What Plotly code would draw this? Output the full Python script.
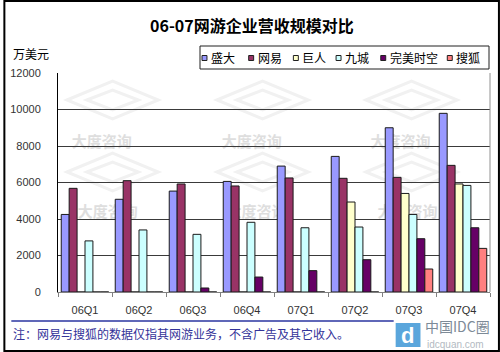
import plotly.graph_objects as go

quarters = ["06Q1", "06Q2", "06Q3", "06Q4", "07Q1", "07Q2", "07Q3", "07Q4"]
shanda = [4250, 5080, 5530, 6060, 6900, 7430, 9000, 9790]
netease = [5680, 6100, 5920, 5810, 6250, 6230, 6280, 6940]
giant = [0, 0, 0, 0, 0, 4930, 5400, 5920]
the9 = [2800, 3400, 3160, 3820, 3520, 3560, 4250, 5840]
perfect = [0, 0, 220, 820, 1170, 1770, 2920, 3520]
sohu = [0, 0, 0, 0, 0, 0, 1260, 2390]
series_names = ["盛大", "网易", "巨人", "九城", "完美时空", "搜狐"]
series_values = [shanda, netease, giant, the9, perfect, sohu]
colors = ["#9999FF", "#993366", "#FFFFCC", "#CCFFFF", "#660066", "#FF8080"]
y_ticks = [0, 2000, 4000, 6000, 8000, 10000, 12000]

title_text = "06-07网游企业营收规模对比"
unit_text = "万美元"
note_text = "注：网易与搜狐的数据仅指其网游业务，不含广告及其它收入。"
watermark = "大度咨询"

W, H = 500, 352
L, R, T, B = 55, 10, 73, 60
PW, PH = W - L - R, H - T - B

def px(x):
    return (x - L) / PW

def py(y):
    return (H - B - y) / PH

CJK = "Noto Sans CJK SC, Liberation Sans, sans-serif"
NUM = "Liberation Sans, Arial, Noto Sans CJK SC, sans-serif"

fig = go.Figure()
xs = list(range(len(quarters)))
for name, vals, col in zip(series_names, series_values, colors):
    fig.add_trace(go.Bar(
        x=xs, y=vals, name=name,
        marker=dict(color=col, line=dict(color="#1a1a1a", width=1)),
        showlegend=False,
    ))

shapes = []
annotations = []

# watermark diamonds and text (behind bars)
for dx in [0, 151, 301]:
    for cy in [100, 172]:
        cx = 110 + dx
        for hw, hh in [(46, 19), (26, 10)]:
            path = "M {} {} L {} {} L {} {} L {} {} Z".format(
                px(cx - hw), py(cy), px(cx), py(cy - hh), px(cx + hw), py(cy), px(cx), py(cy + hh))
            shapes.append(dict(type="path", xref="paper", yref="paper", path=path,
                               line=dict(color="#f1f1f1", width=3), layer="between"))
for (cx, cy) in [(99, 142), (250, 142), (400, 142), (105, 212), (255, 212), (407, 212)]:
    shapes.append(dict(type="rect", xref="paper", yref="paper",
                       x0=px(cx - 35), x1=px(cx + 35), y0=py(cy + 10), y1=py(cy - 10),
                       line=dict(width=0), fillcolor="rgba(0,0,0,0)", layer="between",
                       label=dict(text=watermark, textposition="middle center",
                                  font=dict(family=CJK, size=15, color="#dedede", weight="bold"))))

# plot area right border
shapes.append(dict(type="line", xref="paper", yref="paper", x0=1, x1=1, y0=0, y1=1,
                   line=dict(color="#909090", width=1)))

# legend box
shapes.append(dict(type="rect", xref="paper", yref="paper",
                   x0=px(198), x1=px(489), y0=py(69), y1=py(46),
                   line=dict(color="#202020", width=1), fillcolor="white"))
sq_x = [200, 247, 292, 335, 380, 447]
for name, col, sx in zip(series_names, colors, sq_x):
    shapes.append(dict(type="rect", xref="paper", yref="paper",
                       x0=px(sx), x1=px(sx + 5), y0=py(60.5), y1=py(55.5),
                       line=dict(color="#202020", width=1), fillcolor=col))
    annotations.append(dict(text=name, xref="paper", yref="paper", x=px(sx + 7), y=py(58),
                            xanchor="left", yanchor="middle", showarrow=False,
                            font=dict(family=CJK, size=12, color="#000")))

# title, unit, note
annotations.append(dict(text="<b>" + title_text + "</b>", xref="paper", yref="paper",
                        x=px(250), y=py(25), xanchor="center", yanchor="middle", showarrow=False,
                        font=dict(family=CJK, size=16, color="#000")))
annotations.append(dict(text=unit_text, xref="paper", yref="paper", x=px(8), y=py(54),
                        xanchor="left", yanchor="middle", showarrow=False,
                        font=dict(family=CJK, size=12, color="#000")))
shapes.append(dict(type="line", xref="paper", yref="paper", x0=px(8), x1=px(393),
                   y0=py(321), y1=py(321), line=dict(color="#2a35a0", width=1.5)))
annotations.append(dict(text=note_text, xref="paper", yref="paper", x=px(8), y=py(333),
                        xanchor="left", yanchor="middle", showarrow=False,
                        font=dict(family=CJK, size=12, color="#333399")))

# bottom-right logo
shapes.append(dict(type="rect", xref="paper", yref="paper",
                   x0=px(395), x1=px(420), y0=py(347), y1=py(323),
                   line=dict(width=0), fillcolor="#5aa6dc"))
annotations.append(dict(text="<b>d</b>", xref="paper", yref="paper", x=px(407), y=py(335),
                        xanchor="center", yanchor="middle", showarrow=False,
                        font=dict(family=NUM, size=22, color="white")))
annotations.append(dict(text="中国IDC圈", xref="paper", yref="paper", x=px(423), y=py(326),
                        xanchor="left", yanchor="middle", showarrow=False,
                        font=dict(family=CJK, size=14, color="#7d8a97")))
annotations.append(dict(text="idcquan.com", xref="paper", yref="paper", x=px(425), y=py(344),
                        xanchor="left", yanchor="middle", showarrow=False,
                        font=dict(family=NUM, size=10, color="#b3bac2")))

# outer border
shapes.append(dict(type="rect", xref="paper", yref="paper",
                   x0=px(1), x1=px(499), y0=py(351), y1=py(1),
                   line=dict(color="#000", width=2), fillcolor="rgba(0,0,0,0)"))

fig.update_layout(
    width=W, height=H,
    margin=dict(l=L, r=R, t=T, b=B, pad=0),
    paper_bgcolor="white", plot_bgcolor="white",
    barmode="group", bargap=0.12, bargroupgap=0,
    showlegend=False,
    shapes=shapes, annotations=annotations,
    xaxis=dict(
        range=[-0.5, len(quarters) - 0.5],
        tickmode="array", tickvals=xs, ticktext=quarters,
        ticks="", showgrid=False, zeroline=False,
        showline=True, linecolor="#808080", linewidth=1,
        minor=dict(ticks="outside", ticklen=4, tickcolor="#808080", tick0=-0.5, dtick=1, showgrid=False),
        tickfont=dict(family=NUM, size=11, color="#333"),
        ticklabelstandoff=8,
        fixedrange=True,
    ),
    yaxis=dict(
        range=[0, 12000], tickmode="array", tickvals=y_ticks,
        ticktext=[str(v) for v in y_ticks],
        showgrid=True, gridcolor="#3a3a3a", gridwidth=1,
        zeroline=False, showline=True, linecolor="#000", linewidth=1,
        ticks="", tickfont=dict(family=NUM, size=11, color="#333"),
        ticklabelstandoff=14,
        fixedrange=True,
    ),
)

fig.write_html("out.html")
